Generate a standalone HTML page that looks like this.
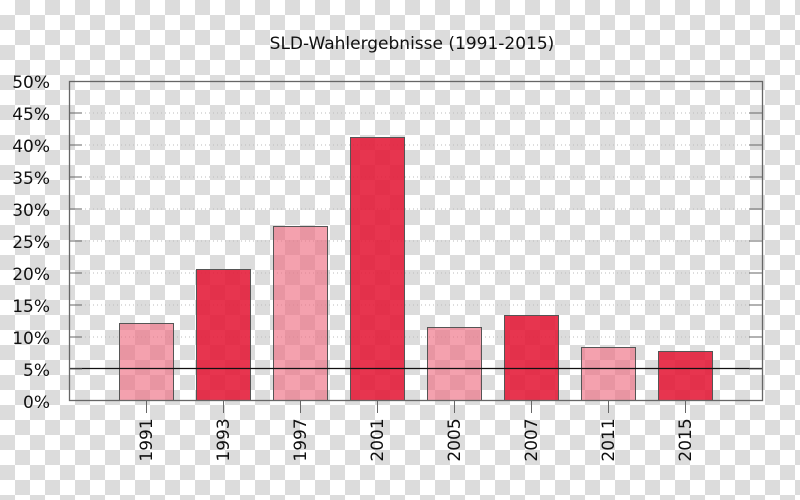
<!DOCTYPE html><html><head><style>
body{margin:0}
#c{width:800px;height:500px;position:relative;background:repeating-conic-gradient(#dcdcdc 0 25%,#fff 0 50%) 0 0/30px 30px;font-family:"DejaVu Sans","Liberation Sans",sans-serif}
</style></head><body><div id="c">
<svg width="800" height="500" style="position:absolute;left:0;top:0" font-family="DejaVu Sans, Liberation Sans, sans-serif">
<text x="412" y="49" font-size="17" text-anchor="middle" fill="#111">SLD-Wahlergebnisse (1991-2015)</text>
<g stroke="#bbb" stroke-dasharray="1,3" stroke-width="1">
<line x1="69" x2="762" y1="113" y2="113"/><line x1="69" x2="762" y1="145" y2="145"/><line x1="69" x2="762" y1="177" y2="177"/><line x1="69" x2="762" y1="209" y2="209"/><line x1="69" x2="762" y1="241" y2="241"/><line x1="69" x2="762" y1="273" y2="273"/><line x1="69" x2="762" y1="305" y2="305"/><line x1="69" x2="762" y1="337" y2="337"/>
</g>
<g stroke="#555" stroke-width="1">
<rect x="119.5" y="323.5" width="54" height="77" fill="rgba(238,110,130,0.65)"/>
<rect x="196.5" y="269.5" width="54" height="131" fill="rgba(228,25,55,0.88)"/>
<rect x="273.5" y="226.5" width="54" height="174" fill="rgba(238,110,130,0.65)"/>
<rect x="350.5" y="137.5" width="54" height="263" fill="rgba(228,25,55,0.88)"/>
<rect x="427.5" y="327.5" width="54" height="73" fill="rgba(238,110,130,0.65)"/>
<rect x="504.5" y="315.5" width="54" height="85" fill="rgba(228,25,55,0.88)"/>
<rect x="581.5" y="347.5" width="54" height="53" fill="rgba(238,110,130,0.65)"/>
<rect x="658.5" y="351.5" width="54" height="49" fill="rgba(228,25,55,0.88)"/>
</g>
<line x1="69" x2="762" y1="368.5" y2="368.5" stroke="#111" stroke-width="1.3"/>
<rect x="69.5" y="81.5" width="693" height="319" fill="none" stroke="#666" stroke-width="1.3"/>
<g stroke="#666" stroke-width="1">
<path d="M69 113h13M69 145h13M69 177h13M69 209h13M69 241h13M69 273h13M69 305h13M69 337h13M69 369h13"/>
<path d="M762 113h-13M762 145h-13M762 177h-13M762 209h-13M762 241h-13M762 273h-13M762 305h-13M762 337h-13M762 369h-13"/>
<path d="M146.5 400v13M223.5 400v13M300.5 400v13M377.5 400v13M454.5 400v13M531.5 400v13M608.5 400v13M685.5 400v13"/>
</g>
<g font-size="17" text-anchor="end" fill="#111">
<text x="50" y="88">50%</text><text x="50" y="120">45%</text><text x="50" y="152">40%</text><text x="50" y="184">35%</text><text x="50" y="216">30%</text><text x="50" y="248">25%</text><text x="50" y="280">20%</text><text x="50" y="312">15%</text><text x="50" y="344">10%</text><text x="50" y="376">5%</text><text x="50" y="408">0%</text>
</g>
<g font-size="17" text-anchor="middle" fill="#111">
<text transform="translate(152,440) rotate(-90)">1991</text>
<text transform="translate(229,440) rotate(-90)">1993</text>
<text transform="translate(306,440) rotate(-90)">1997</text>
<text transform="translate(383,440) rotate(-90)">2001</text>
<text transform="translate(460,440) rotate(-90)">2005</text>
<text transform="translate(537,440) rotate(-90)">2007</text>
<text transform="translate(614,440) rotate(-90)">2011</text>
<text transform="translate(691,440) rotate(-90)">2015</text>
</g>
</svg></div></body></html>
